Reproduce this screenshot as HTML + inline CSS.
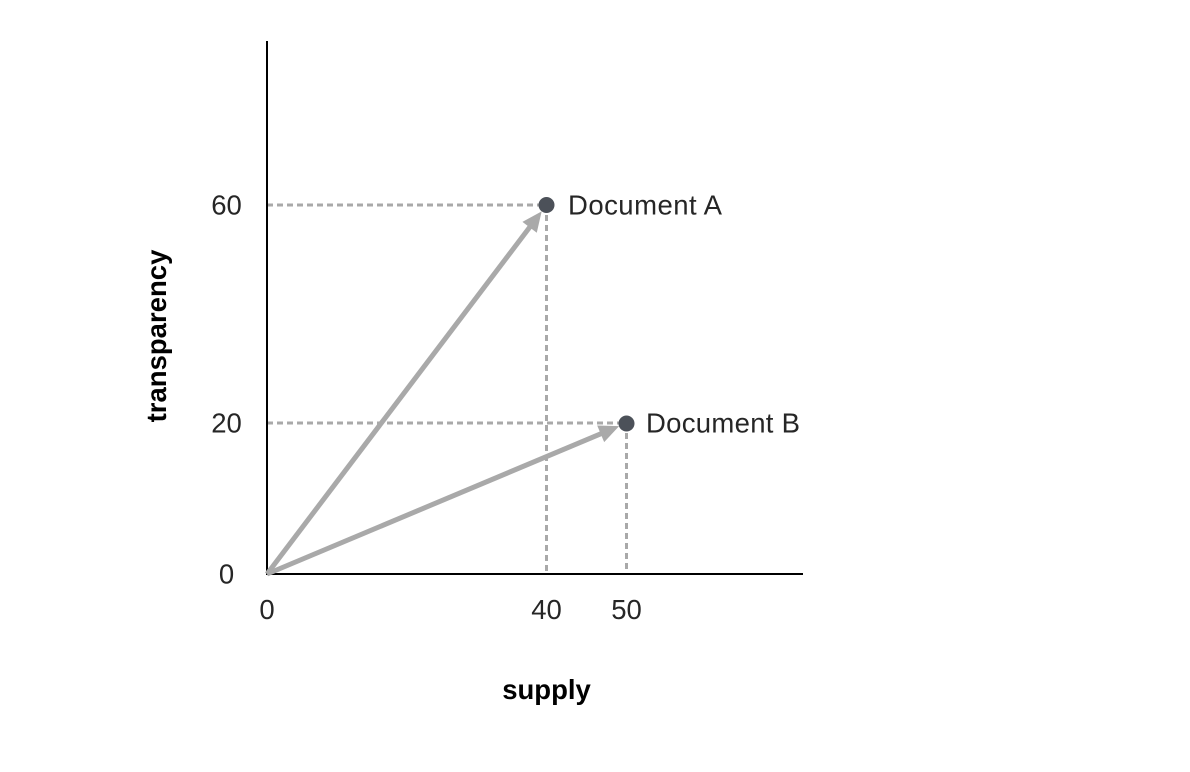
<!DOCTYPE html>
<html>
<head>
<meta charset="utf-8">
<title>Document vectors</title>
<style>
html,body{margin:0;padding:0;background:#fff;width:1190px;height:772px;overflow:hidden}
svg{display:block}
text{font-family:"Liberation Sans",sans-serif}
</style>
</head>
<body>
<svg id="chart" xmlns="http://www.w3.org/2000/svg" width="1190" height="772" viewBox="0 0 1190 772"></svg>
<script>
const documentNames = ['Document A', 'Document B'];
const supplyValues = [40, 50];
const transparencyValues = [60, 20];
const xTickLabels = [0, 40, 50];
const yTickLabels = [0, 20, 60];

// The source axes are not evenly spaced, so each axis is piecewise linear.
function xAxis(v) {
  return v <= 40 ? 267 + v * 6.9875 : 546.5 + (v - 40) * 8;
}
function yAxis(v) {
  return v <= 20 ? 574 - v * 7.55 : 423 - (v - 20) * 5.45;
}

const svg = document.getElementById('chart');
const NS = 'http://www.w3.org/2000/svg';
function make(tag, attrs, parent) {
  const el = document.createElementNS(NS, tag);
  for (const k in attrs) el.setAttribute(k, attrs[k]);
  (parent || svg).appendChild(el);
  return el;
}
const GREY = '#a9a9a9';
const INK = '#262626';

// dashed guides
documentNames.forEach((name, i) => {
  const px = xAxis(supplyValues[i]);
  const py = yAxis(transparencyValues[i]);
  const h = make('line', {x1: 267, y1: py, x2: px, y2: py, stroke: GREY, 'stroke-width': 3, 'stroke-dasharray': '6 4'});
  
  
  const v = make('line', {x1: px, y1: py, x2: px, y2: 574, stroke: GREY, 'stroke-width': 3, 'stroke-dasharray': '6 4'});
  
  
});

// axes
const yLine = make('line', {x1: 267, y1: 41, x2: 267, y2: 575, stroke: '#000', 'stroke-width': 2});


const xLine = make('line', {x1: 266, y1: 574, x2: 803, y2: 574, stroke: '#000', 'stroke-width': 2});



// vectors, dots, labels
documentNames.forEach((name, i) => {
  const ox = xAxis(0), oy = yAxis(0);
  const px = xAxis(supplyValues[i]);
  const py = yAxis(transparencyValues[i]);
  const len = Math.hypot(px - ox, py - oy);
  const ux = (px - ox) / len, uy = (py - oy) / len;
  const tipX = px - ux * 8, tipY = py - uy * 8;
  const baseX = tipX - ux * 20, baseY = tipY - uy * 20;
  const nx = -uy, ny = ux;
  const shaft = make('line', {x1: ox, y1: oy, x2: baseX + ux * 2, y2: baseY + uy * 2, stroke: GREY, 'stroke-width': 5});
  
  
  const head = make('polygon', {
    points: [tipX, tipY, baseX + nx * 9, baseY + ny * 9, baseX - nx * 9, baseY - ny * 9].join(' '),
    fill: GREY
  });
  
  
  const dot = make('circle', {cx: px, cy: i === 0 ? py : py + 0.5, r: 8, fill: '#4c5159'});
  
  
  const label = make('text', {x: px + (i === 0 ? 21.5 : 19.5), y: py + 9.5, 'font-size': 27.5, fill: INK, textLength: 154, lengthAdjust: 'spacing'});
  label.textContent = name;
  
  
});

// tick labels
xTickLabels.forEach(t => {
  const el = make('text', {x: xAxis(t), y: 619, 'font-size': 27.5, fill: INK, 'text-anchor': 'middle'});
  el.textContent = t;
  
  
});
yTickLabels.forEach(t => {
  const el = make('text', {x: 226.5, y: yAxis(t) + 9.5, 'font-size': 27.5, fill: INK, 'text-anchor': 'middle'});
  el.textContent = t;
  
  
});

// axis titles
const xTitle = make('text', {x: 546.5, y: 699, 'font-size': 27.5, 'font-weight': 'bold', fill: '#000', 'text-anchor': 'middle'});
xTitle.textContent = 'supply';


const yTitle = make('text', {x: 0, y: 0, transform: 'translate(166 336) rotate(-90)', 'font-size': 27.5, 'font-weight': 'bold', fill: '#000', 'text-anchor': 'middle'});
yTitle.textContent = 'transparency';


</script>
</body>
</html>
